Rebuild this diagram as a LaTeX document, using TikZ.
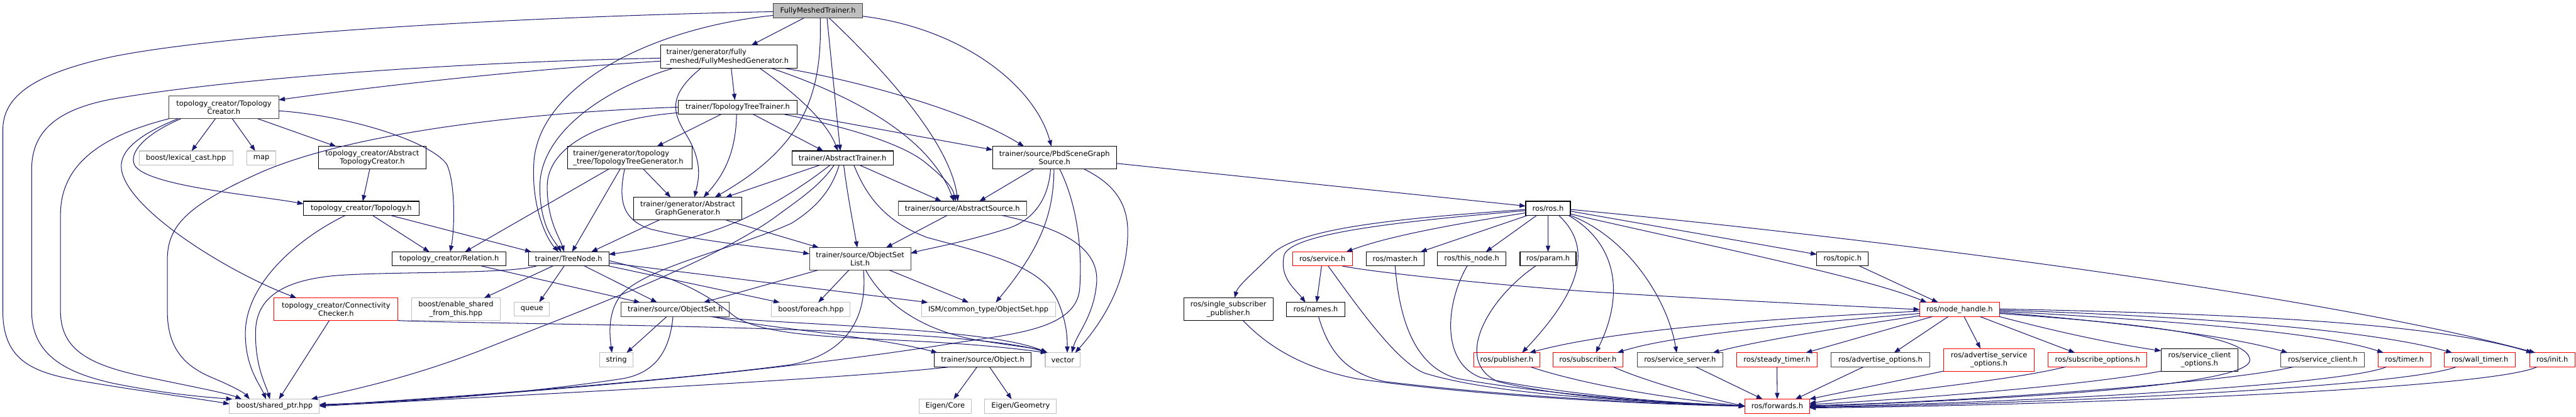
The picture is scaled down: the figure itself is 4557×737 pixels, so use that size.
\documentclass[tikz,border=0pt]{standalone}
\usepackage{fontspec}
\setmainfont{DejaVu Sans}
\usetikzlibrary{arrows.meta}
\definecolor{edgeblue}{HTML}{191970}
\definecolor{greyext}{HTML}{BFBFBF}
\definecolor{darkbd}{HTML}{404040}
\definecolor{mainfill}{HTML}{BFBFBF}
\newcommand{\nodefont}{\fontsize{12.75pt}{15pt}\selectfont}
\tikzset{
  bx/.style={rectangle, inner sep=0pt, outer sep=0pt, font=\nodefont, line width=1.2pt, fill=white, align=center},
  doc/.style={bx, draw=black},
  dg/.style={bx, draw=darkbd},
  ext/.style={bx, draw=greyext},
  trunc/.style={bx, draw=red},
  conn/.style={draw=edgeblue, line width=1.15pt, -{Triangle[length=11pt,width=8pt]}},
}
\begin{document}
\begin{tikzpicture}[x=1pt,y=-1pt]
\useasboundingbox (0,0) rectangle (4557,737);
% ---------- nodes ----------
\node[dg, fill=mainfill, minimum width=158pt, minimum height=26pt] (FMT) at (1447,19) {FullyMeshedTrainer.h};
\node[doc, minimum width=241pt, minimum height=41pt, text width=221pt, align=left] (FMG) at (1289.5,100.5) {trainer/generator/fully\\\_meshed/FullyMeshedGenerator.h};
\node[doc, minimum width=210pt, minimum height=25pt] (TTT) at (1305,189.5) {trainer/TopologyTreeTrainer.h};
\node[doc, minimum width=220pt, minimum height=40pt, text width=200pt, align=left] (TTG) at (1114,279) {trainer/generator/topology\\\_tree/TopologyTreeGenerator.h};
\node[doc, minimum width=179pt, minimum height=25pt] (AT) at (1490.5,279.5) {trainer/AbstractTrainer.h};
\node[doc, minimum width=191pt, minimum height=40pt] (AGG) at (1216.5,369) {trainer/generator/Abstract\\GraphGenerator.h};
\node[doc, minimum width=219pt, minimum height=40pt] (PSGS) at (1865.5,279) {trainer/source/PbdSceneGraph\\Source.h};
\node[dg, minimum width=227pt, minimum height=25pt] (AS) at (1702.5,368.5) {trainer/source/AbstractSource.h};
\node[dg, minimum width=194pt, minimum height=40pt] (TC) at (396,190) {topology\_creator/Topology\\Creator.h};
\node[ext, minimum width=166pt, minimum height=25pt] (LC) at (329,279.5) {boost/lexical\_cast.hpp};
\node[ext, minimum width=51pt, minimum height=25pt] (MAP) at (462.5,279.5) {map};
\node[doc, minimum width=191pt, minimum height=40pt] (ATC) at (658.5,279) {topology\_creator/Abstract\\TopologyCreator.h};
\node[doc, minimum width=204pt, minimum height=25pt] (TOP) at (639,368.5) {topology\_creator/Topology.h};
\node[doc, minimum width=201pt, minimum height=25pt] (REL) at (794.5,458) {topology\_creator/Relation.h};
\node[doc, minimum width=142pt, minimum height=25pt] (TN) at (1006,458) {trainer/TreeNode.h};
\node[dg, minimum width=179pt, minimum height=40pt] (OSL) at (1521.5,458) {trainer/source/ObjectSet\\List.h};
\node[trunc, minimum width=219pt, minimum height=40pt] (CC) at (594.5,547) {topology\_creator/Connectivity\\Checker.h};
\node[ext, minimum width=157pt, minimum height=40pt] (ESFT) at (806.5,547) {boost/enable\_shared\\\_from\_this.hpp};
\node[ext, minimum width=62pt, minimum height=25pt] (QUE) at (941,547) {queue};
\node[dg, minimum width=191pt, minimum height=25pt] (OS) at (1194.5,547.5) {trainer/source/ObjectSet.h};
\node[ext, minimum width=139pt, minimum height=25pt] (FE) at (1434.5,547.5) {boost/foreach.hpp};
\node[ext, minimum width=237pt, minimum height=25pt] (ISM) at (1748.5,547.5) {ISM/common\_type/ObjectSet.hpp};
\node[ext, minimum width=59pt, minimum height=25pt] (STR) at (1090.5,636.5) {string};
\node[doc, minimum width=171pt, minimum height=25pt] (OBJ) at (1738.5,636.5) {trainer/source/Object.h};
\node[ext, minimum width=62pt, minimum height=25pt] (VEC) at (1880,636.5) {vector};
\node[ext, minimum width=159pt, minimum height=25pt] (SP) at (485.5,718.5) {boost/shared\_ptr.hpp};
\node[ext, minimum width=92pt, minimum height=25pt] (EC) at (1672,718.5) {Eigen/Core};
\node[ext, minimum width=127pt, minimum height=25pt] (EG) at (1805.5,718.5) {Eigen/Geometry};
\node[doc, minimum width=79pt, minimum height=25pt] (ROS) at (2738.5,368.5) {ros/ros.h};
\node[doc, minimum width=158pt, minimum height=40pt] (SSP) at (2173,547) {ros/single\_subscriber\\\_publisher.h};
\node[trunc, minimum width=105pt, minimum height=25pt] (SRV) at (2339.5,458) {ros/service.h};
\node[doc, minimum width=102pt, minimum height=25pt] (MST) at (2468,458) {ros/master.h};
\node[doc, minimum width=121pt, minimum height=25pt] (TNODE) at (2603.5,458) {ros/this\_node.h};
\node[doc, minimum width=99pt, minimum height=25pt] (PRM) at (2738.5,458) {ros/param.h};
\node[doc, minimum width=103pt, minimum height=25pt] (NAM) at (2327.5,547.5) {ros/names.h};
\node[trunc, minimum width=117pt, minimum height=25pt] (PUB) at (2665.5,636.5) {ros/publisher.h};
\node[trunc, minimum width=124pt, minimum height=25pt] (SUB) at (2809,636.5) {ros/subscriber.h};
\node[dg, minimum width=152pt, minimum height=25pt] (SS) at (2972,636.5) {ros/service\_server.h};
\node[trunc, minimum width=143pt, minimum height=25pt] (STM) at (3143.5,636.5) {ros/steady\_timer.h};
\node[dg, minimum width=175pt, minimum height=25pt] (AO) at (3326.5,636.5) {ros/advertise\_options.h};
\node[trunc, minimum width=161pt, minimum height=40pt] (ASO) at (3518.5,636.5) {ros/advertise\_service\\\_options.h};
\node[trunc, minimum width=175pt, minimum height=25pt] (SO) at (3710.5,636.5) {ros/subscribe\_options.h};
\node[doc, minimum width=136pt, minimum height=40pt] (SCO) at (3891,636.5) {ros/service\_client\\\_options.h};
\node[dg, minimum width=148pt, minimum height=25pt] (SC) at (4109,636.5) {ros/service\_client.h};
\node[trunc, minimum width=93pt, minimum height=25pt] (TMR) at (4253.5,636.5) {ros/timer.h};
\node[trunc, minimum width=126pt, minimum height=25pt] (WT) at (4387,636.5) {ros/wall\_timer.h};
\node[trunc, minimum width=80pt, minimum height=25pt] (INIT) at (4515,636.5) {ros/init.h};
\node[doc, minimum width=91pt, minimum height=25pt] (TOPIC) at (3259.5,458) {ros/topic.h};
\node[trunc, minimum width=141pt, minimum height=25pt] (NH) at (3466.5,547.5) {ros/node\_handle.h};
\node[trunc, minimum width=114pt, minimum height=25pt] (FWD) at (3144,718.5) {ros/forwards.h};
% ---------- edges: FullyMeshedTrainer ----------
\draw[conn] (FMT) .. controls (900,30) and (400,60) .. (200,100) .. controls (60,130) and (5,170) .. (5,230) -- (5,550) .. controls (5,640) and (60,660) .. (150,675) .. controls (250,692) and (350,705) .. ([yshift=4pt]SP.west);
\draw[conn] (FMT) .. controls (1150,50) and (960,150) .. (945,280) .. controls (938,360) and (965,420) .. ([xshift=-18pt]TN.north);
\draw[conn] (FMT) -- (FMG);
\draw[conn] ([xshift=4pt]FMT.south) .. controls (1455,170) and (1420,260) .. ([xshift=48pt]AGG.north);
\draw[conn] ([xshift=16pt]FMT.south) -- ([xshift=-4pt]AT.north);
\draw[conn] ([xshift=20pt]FMT.south) .. controls (1560,120) and (1680,250) .. ([xshift=-8pt]AS.north);
\draw[conn] (FMT) .. controls (1700,50) and (1830,150) .. (PSGS);
% ---------- FullyMeshedGenerator ----------
\draw[conn] (FMG) .. controls (800,110) and (400,140) .. (200,175) .. controls (90,195) and (56,240) .. (56,300) -- (56,550) .. controls (56,630) and (120,660) .. (200,678) .. controls (300,698) and (370,703) .. ([xshift=5pt]SP.north west);
\draw[conn] (FMG) .. controls (900,125) and (650,155) .. (TC);
\draw[conn] ([xshift=-100pt]FMG.south) .. controls (1060,160) and (955,240) .. (955,330) .. controls (955,400) and (980,425) .. ([xshift=-13pt]TN.north);
\draw[conn] ([xshift=-50pt]FMG.south) .. controls (1180,170) and (1190,200) .. (1215,240) .. controls (1245,290) and (1235,320) .. ([xshift=12pt]AGG.north);
\draw[conn] ([xshift=4pt]FMG.south) -- ([xshift=-5pt]TTT.north);
\draw[conn] ([xshift=55pt]FMG.south) .. controls (1400,160) and (1460,210) .. ([xshift=-8pt]AT.north);
\draw[conn] ([xshift=76pt]FMG.south) .. controls (1480,160) and (1640,230) .. ([xshift=-15pt]AS.north);
\draw[conn] ([xshift=100pt]FMG.south) .. controls (1500,140) and (1700,190) .. ([xshift=-54pt]PSGS.north);
% ---------- TopologyTreeTrainer ----------
\draw[conn] (TTT.west) .. controls (900,200) and (600,240) .. (450,310) .. controls (330,365) and (296,400) .. (296,460) -- (296,550) .. controls (296,620) and (330,650) .. (380,670) .. controls (415,685) and (432,695) .. ([xshift=-44pt]SP.north);
\draw[conn] ([yshift=-10pt]TTT.west) .. controls (1060,210) and (968,260) .. (968,330) .. controls (968,390) and (990,420) .. ([xshift=-8pt]TN.north);
\draw[conn] ([xshift=-29pt]TTT.south) -- ([xshift=48pt]TTG.north);
\draw[conn] ([xshift=-2pt]TTT.south) .. controls (1302,270) and (1280,310) .. ([xshift=28pt]AGG.north);
\draw[conn] ([xshift=27pt]TTT.south) -- ([xshift=-34pt]AT.north);
\draw[conn] (TTT.south east) -- ([yshift=14pt]PSGS.west);
\draw[conn] ([xshift=81pt]TTT.south) .. controls (1500,225) and (1600,255) .. (1640,290) .. controls (1670,315) and (1685,330) .. ([xshift=-12pt]AS.north);
% ---------- TopologyTreeGenerator ----------
\draw[conn] ([xshift=-37pt]TTG.south) -- ([xshift=28pt]REL.north);
\draw[conn] ([xshift=-17pt]TTG.south) -- ([xshift=6pt]TN.north);
\draw[conn] ([xshift=-9pt]TTG.south) .. controls (1092,360) and (1105,390) .. (1150,405) .. controls (1250,430) and (1380,440) .. ([yshift=9pt]OSL.west);
\draw[conn] ([xshift=24pt]TTG.south) -- ([xshift=-30pt]AGG.north);
% ---------- AbstractTrainer ----------
\draw[conn] ([xshift=-40pt]AT.south) -- ([xshift=67pt]AGG.north);
\draw[conn] ([xshift=-22pt]AT.south) .. controls (1420,330) and (1370,360) .. (1330,380) .. controls (1250,420) and (1150,440) .. ([yshift=8pt]TN.east);
\draw[conn] ([xshift=-15pt]AT.south) .. controls (1450,330) and (1410,355) .. (1370,385) .. controls (1250,470) and (1000,560) .. (850,620) .. controls (720,670) and (620,690) .. ([xshift=65pt]SP.north);
\draw[conn] ([xshift=-6pt]AT.south) .. controls (1470,340) and (1440,370) .. (1400,395) .. controls (1300,440) and (1150,470) .. (1100,520) .. controls (1075,550) and (1078,590) .. ([xshift=-8pt]STR.north);
\draw[conn] ([xshift=2pt]AT.south) .. controls (1500,350) and (1510,400) .. ([xshift=-5pt]OSL.north);
\draw[conn] ([xshift=30pt]AT.south) -- ([xshift=-37pt]AS.north);
\draw[conn] ([xshift=20pt]AT.south) .. controls (1530,340) and (1560,390) .. (1640,420) .. controls (1750,450) and (1840,470) .. (1870,530) .. controls (1888,570) and (1888,600) .. ([xshift=8pt]VEC.north);
% ---------- AbstractGraphGenerator ----------
\draw[conn] ([xshift=-50pt]AGG.south) -- ([xshift=40pt]TN.north);
\draw[conn] ([xshift=67pt]AGG.south) -- ([xshift=-73pt]OSL.north);
% ---------- PbdSceneGraphSource ----------
\draw[conn] ([xshift=-37pt]PSGS.south) -- ([xshift=30pt]AS.north);
\draw[conn] ([xshift=-7pt]PSGS.south) .. controls (1855,350) and (1830,390) .. (1780,405) .. controls (1700,430) and (1640,440) .. ([yshift=10pt]OSL.east);
\draw[conn] ([xshift=-1pt]PSGS.south) .. controls (1864,380) and (1840,440) .. ([xshift=13pt]ISM.north);
\draw[conn] ([xshift=9pt]PSGS.south) .. controls (1905,360) and (1915,440) .. (1910,510) .. controls (1905,580) and (1800,590) .. (1700,605) .. controls (1400,655) and (900,700) .. ([yshift=2pt]SP.east);
\draw[conn] ([xshift=52pt]PSGS.south) .. controls (1960,320) and (1995,350) .. (1995,410) .. controls (1995,500) and (1950,570) .. ([xshift=22pt]VEC.north);
\draw[conn] ([yshift=-10pt]PSGS.east) -- ([yshift=4pt]ROS.west);
% ---------- AbstractSource ----------
\draw[conn] ([xshift=-27pt]AS.south) -- ([xshift=46pt]OSL.north);
\draw[conn] ([xshift=70pt]AS.south) .. controls (1860,400) and (1945,430) .. (1940,500) .. controls (1935,560) and (1905,590) .. ([xshift=16pt]VEC.north);
% ---------- TopologyCreator ----------
\draw[conn] ([xshift=-15pt]TC.south) -- ([xshift=10pt]LC.north);
\draw[conn] ([xshift=15pt]TC.south) -- ([xshift=-11pt]MAP.north);
\draw[conn] ([xshift=60pt]TC.south) -- ([xshift=-64pt]ATC.north);
\draw[conn] ([xshift=-76pt]TC.south) .. controls (250,240) and (225,275) .. (240,295) .. controls (270,330) and (450,345) .. ([yshift=8pt]TOP.west);
\draw[conn] ([xshift=-81pt]TC.south) .. controls (240,240) and (210,270) .. (215,300) .. controls (225,370) and (400,480) .. ([xshift=-70pt]CC.north);
\draw[conn] (TC.south west) .. controls (180,240) and (107,290) .. (107,380) -- (107,550) .. controls (107,620) and (160,645) .. (250,665) .. controls (340,684) and (400,695) .. ([xshift=-58pt]SP.north);
\draw[conn] ([yshift=-6pt]TC.east) .. controls (620,205) and (760,250) .. (790,290) .. controls (805,320) and (805,400) .. ([xshift=2pt]REL.north);
\draw[conn] (ATC) -- (TOP);
% ---------- Topology ----------
\draw[conn] ([xshift=-28pt]TOP.south) .. controls (530,420) and (434,500) .. (434,590) .. controls (434,650) and (460,680) .. ([xshift=-15pt]SP.north);
\draw[conn] ([xshift=20pt]TOP.south) -- ([xshift=-35pt]REL.north);
\draw[conn] ([xshift=52pt]TOP.south) -- ([xshift=-66pt]TN.north);
\draw[conn] ([xshift=57pt]REL.south) -- ([xshift=-62pt]OS.north);
% ---------- TreeNode ----------
\draw[conn] ([xshift=-57pt]TN.south) .. controls (900,485) and (700,480) .. (600,487) .. controls (480,496) and (452,540) .. (452,590) .. controls (452,650) and (470,680) .. ([xshift=-8pt]SP.north);
\draw[conn] ([xshift=-28pt]TN.south) -- ([xshift=50pt]ESFT.north);
\draw[conn] ([xshift=-8pt]TN.south) -- ([xshift=13pt]QUE.north);
\draw[conn] ([xshift=28pt]TN.south) -- ([xshift=-32pt]OS.north);
\draw[conn] (TN.south east) -- ([xshift=-55pt]FE.north);
\draw[conn] ([yshift=-7pt]TN.east) -- ([xshift=-107pt]ISM.north);
\draw[conn] ([yshift=-3pt]TN.east) .. controls (1200,490) and (1250,520) .. (1300,560) .. controls (1380,610) and (1600,590) .. ([xshift=-28pt]VEC.north);
% ---------- ConnectivityChecker, ObjectSet, Object ----------
\draw[conn] (CC.south east) .. controls (900,575) and (1700,575) .. ([xshift=-27pt]VEC.north);
\draw[conn] ([xshift=-12pt]CC.south) -- ([xshift=8pt]SP.north);
\draw[conn] ([xshift=-15pt]OS.south) -- ([xshift=18pt]STR.north);
\draw[conn] ([xshift=-4pt]OS.south) .. controls (1185,620) and (1160,660) .. (1100,670) .. controls (900,700) and (700,712) .. ([yshift=3pt]SP.east);
\draw[conn] ([xshift=65pt]OS.south) .. controls (1350,580) and (1550,595) .. ([xshift=-80pt]OBJ.north);
\draw[conn] ([xshift=62pt]OS.south) .. controls (1400,575) and (1750,580) .. ([xshift=-27pt]VEC.north);
\draw[conn] ([xshift=-58pt]OBJ.south) .. controls (1500,670) and (900,700) .. (SP.east);
\draw[conn] ([xshift=-10pt]OBJ.south) -- ([xshift=15pt]EC.north);
\draw[conn] ([xshift=12pt]OBJ.south) -- ([xshift=-16pt]EG.north);
% ---------- ObjectSetList ----------
\draw[conn] ([xshift=-75pt]OSL.south) -- ([xshift=50pt]OS.north);
\draw[conn] ([xshift=-20pt]OSL.south) -- ([xshift=13pt]FE.north);
\draw[conn] ([xshift=52pt]OSL.south) -- ([xshift=-35pt]ISM.north);
\draw[conn] ([xshift=10pt]OSL.south) .. controls (1560,530) and (1620,580) .. (1720,600) .. controls (1790,612) and (1830,615) .. ([xshift=-28pt]VEC.north);
\draw[conn] ([xshift=6pt]OSL.south) .. controls (1535,560) and (1500,625) .. (1400,645) .. controls (1200,672) and (800,703) .. ([yshift=1pt]SP.east);
% ---------- ros/ros.h ----------
\draw[conn] ([yshift=-2pt]ROS.west) .. controls (2500,385) and (2300,400) .. (2250,450) .. controls (2220,480) and (2190,505) .. ([xshift=11pt]SSP.north);
\draw[conn] ([yshift=-4pt]ROS.west) .. controls (2500,390) and (2290,410) .. (2272,450) .. controls (2262,490) and (2290,510) .. ([xshift=-18pt]NAM.north);
\draw[conn] ([yshift=-8pt]ROS.west) .. controls (2550,400) and (2450,420) .. ([xshift=42pt]SRV.north);
\draw[conn] ([xshift=-36pt]ROS.south) -- ([xshift=45pt]MST.north);
\draw[conn] ([xshift=-20pt]ROS.south) -- ([xshift=25pt]TNODE.north);
\draw[conn] (ROS) -- (PRM);
\draw[conn] ([xshift=19pt]ROS.south) .. controls (2810,430) and (2810,500) .. ([xshift=27pt]PUB.north);
\draw[conn] ([xshift=36pt]ROS.south) .. controls (2860,430) and (2875,520) .. ([xshift=14pt]SUB.north);
\draw[conn] (ROS.south east) .. controls (2880,420) and (2950,530) .. ([xshift=-6pt]SS.north);
\draw[conn] ([yshift=-5pt]ROS.east) -- ([yshift=8pt]TOPIC.west);
\draw[conn] ([yshift=-10pt]ROS.east) .. controls (3000,430) and (3300,490) .. ([xshift=-58pt]NH.north);
\draw[conn] ([yshift=-2pt]ROS.east) .. controls (3300,420) and (4100,520) .. ([xshift=-30pt]INIT.north);
% ---------- ros/service.h ----------
\draw[conn] (SRV) -- (NAM);
\draw[conn] ([xshift=10pt]SRV.south) .. controls (2400,540) and (2470,640) .. (2520,660) .. controls (2650,700) and (2900,710) .. (FWD.west);
\draw[conn] ([xshift=35pt]SRV.south) .. controls (2420,480) and (2600,500) .. (2800,515) .. controls (3000,528) and (3200,538) .. (NH.west);
% ---------- into ros/forwards.h ----------
\draw[conn] (MST.south) .. controls (2475,560) and (2500,650) .. (2580,670) .. controls (2750,700) and (2950,712) .. (FWD.west);
\draw[conn] ([xshift=-8pt]TNODE.south) .. controls (2560,530) and (2545,640) .. (2620,668) .. controls (2780,700) and (2950,712) .. (FWD.west);
\draw[conn] ([xshift=-22pt]PRM.south) .. controls (2630,530) and (2570,640) .. (2650,675) .. controls (2770,705) and (2950,713) .. (FWD.west);
\draw[conn] ([xshift=5pt]NAM.south) .. controls (2350,620) and (2380,660) .. (2450,675) .. controls (2700,705) and (2950,714) .. (FWD.west);
\draw[conn] ([xshift=26pt]SSP.south) .. controls (2240,610) and (2300,650) .. (2400,670) .. controls (2650,705) and (2950,716) .. (FWD.west);
\draw[conn] ([xshift=42pt]PUB.south) .. controls (2800,680) and (2950,705) .. (FWD.west);
\draw[conn] ([xshift=45pt]SUB.south) .. controls (2900,670) and (3000,700) .. (FWD.west);
\draw[conn] ([xshift=28pt]SS.south) -- ([xshift=-26pt]FWD.north);
\draw[conn] (STM) -- (FWD);
\draw[conn] ([xshift=-30pt]AO.south) -- ([xshift=32pt]FWD.north);
\draw[conn] (ASO.south west) -- (FWD.north east);
\draw[conn] ([xshift=-57pt]SO.south) .. controls (3550,675) and (3300,698) .. ([yshift=5pt]FWD.east);
\draw[conn] (SCO.south west) .. controls (3700,680) and (3400,705) .. ([yshift=3pt]FWD.east);
\draw[conn] ([xshift=-52pt]SC.south) .. controls (3950,675) and (3500,710) .. ([yshift=1pt]FWD.east);
\draw[conn] ([xshift=-32pt]TMR.south) .. controls (4150,680) and (3600,712) .. ([yshift=-1pt]FWD.east);
\draw[conn] ([xshift=-42pt]WT.south) .. controls (4250,685) and (3600,715) .. ([yshift=-2pt]FWD.east);
\draw[conn] ([xshift=-27pt]INIT.south) .. controls (4400,690) and (3600,718) .. ([yshift=-3pt]FWD.east);
% ---------- ros/node_handle.h ----------
\draw[conn] ([xshift=30pt]TOPIC.south) -- ([xshift=-38pt]NH.north);
\draw[conn] ([yshift=-3pt]NH.west) .. controls (3100,565) and (2850,585) .. ([xshift=40pt]PUB.north);
\draw[conn] ([yshift=-7pt]NH.west) .. controls (3150,575) and (2950,595) .. ([xshift=52pt]SUB.north);
\draw[conn] ([yshift=-11pt]NH.west) .. controls (3250,580) and (3100,605) .. ([xshift=58pt]SS.north);
\draw[conn] ([xshift=-48pt]NH.south) -- ([xshift=51pt]STM.north);
\draw[conn] ([xshift=-20pt]NH.south) -- ([xshift=24pt]AO.north);
\draw[conn] ([xshift=8pt]NH.south) -- ([xshift=-15pt]ASO.north);
\draw[conn] ([xshift=36pt]NH.south) -- ([xshift=-40pt]SO.north);
\draw[conn] (NH.south east) .. controls (3650,590) and (3750,610) .. ([yshift=-4pt]SCO.north west);
\draw[conn] ([yshift=-5pt]NH.east) .. controls (3750,570) and (3950,595) .. ([xshift=-62pt]SC.north);
\draw[conn] ([yshift=-7pt]NH.east) .. controls (3750,570) and (3980,590) .. (3980,637) .. controls (3980,680) and (3600,705) .. (FWD.east);
\draw[conn] ([yshift=-3pt]NH.east) .. controls (3800,565) and (4100,585) .. ([xshift=-37pt]TMR.north);
\draw[conn] ([yshift=-1pt]NH.east) .. controls (3900,560) and (4200,585) .. ([xshift=-49pt]WT.north);
\draw[conn] ([yshift=1pt]NH.east) .. controls (3950,555) and (4300,570) .. ([xshift=-35pt]INIT.north);
\end{tikzpicture}
\end{document}
